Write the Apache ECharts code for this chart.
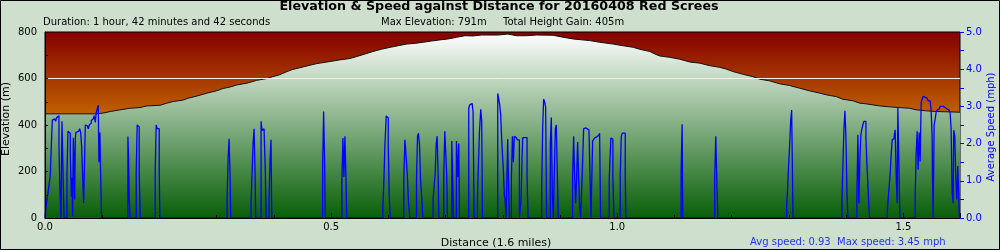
<!DOCTYPE html>
<html><head><meta charset="utf-8">
<script src="https://cdn.jsdelivr.net/npm/echarts@6/dist/echarts.min.js"></script>
<style>html,body{margin:0;padding:0;background:#cee0cd}#c{width:1000px;height:250px}</style>
</head><body><div id="c"></div>
<script>
// ---------- texts ----------
const titleText = 'Elevation & Speed against Distance for 20160408 Red Screes';
const durationText = 'Duration: 1 hour, 42 minutes and 42 seconds';
const maxElevText = 'Max Elevation: 791m';
const gainText = 'Total Height Gain: 405m';
const xName = 'Distance (1.6 miles)';
const yLeftName = 'Elevation (m)';
const yRightName = 'Average Speed (mph)';
const speedSummary = 'Avg speed: 0.93  Max speed: 3.45 mph';

// ---------- axis ranges ----------
const distMax = 1.599;
const elevMax = 800;
const speedMax = 5;

// ---------- elevation profile (miles, metres) ----------
const elevDist = [0, 0.087, 0.101, 0.114, 0.131, 0.148, 0.166, 0.178, 0.201, 0.213,
  0.224, 0.241, 0.250, 0.266, 0.283, 0.300, 0.311, 0.323, 0.335, 0.353,
  0.370, 0.388, 0.398, 0.410, 0.423, 0.433, 0.458, 0.475, 0.498, 0.515,
  0.533, 0.544, 0.559, 0.573, 0.588, 0.603, 0.617, 0.632, 0.646, 0.661,
  0.675, 0.690, 0.704, 0.719, 0.734, 0.748, 0.763, 0.792, 0.809, 0.824,
  0.841, 0.859, 0.888, 0.900, 0.923, 0.952, 0.969, 0.993, 1.010, 1.028,
  1.039, 1.057, 1.068, 1.074, 1.092, 1.109, 1.127, 1.144, 1.162, 1.179,
  1.191, 1.202, 1.220, 1.237, 1.249, 1.266, 1.284, 1.301, 1.319, 1.336,
  1.354, 1.365, 1.383, 1.394, 1.412, 1.424, 1.435, 1.459, 1.476, 1.493,
  1.511, 1.523, 1.540, 1.557, 1.599];
const elevM = [448, 448, 451, 458, 465, 472, 475, 482, 485, 494,
  501, 507, 515, 525, 537, 547, 557, 563, 572, 580,
  592, 600, 608, 616, 630, 639, 654, 664, 673, 680,
  686, 694, 705, 716, 726, 734, 741, 748, 751, 756,
  761, 766, 770, 777, 784, 783, 787, 787, 791, 784,
  784, 787, 786, 780, 770, 763, 756, 748, 741, 734,
  726, 716, 703, 697, 691, 683, 671, 666, 655, 648,
  640, 630, 618, 608, 597, 590, 577, 570, 558, 547,
  537, 530, 522, 511, 504, 494, 491, 482, 478, 475,
  472, 465, 461, 458, 455];

// ---------- speed (miles, mph) ----------
const speedDist = [
  0, 0.0017, 0.0041, 0.0058, 0.0076, 0.0093, 0.0111, 0.0128, 0.0151, 0.0169, 0.0186, 0.0204, 0.0221, 0.0244, 0.0262, 0.0279, 0.0297, 0.0314, 0.0332,
  0.0384, 0.0401, 0.0425, 0.0442, 0.0460, 0.0471, 0.0483, 0.0495, 0.0506, 0.0518,
  0.0530, 0.0541, 0.0565, 0.0588, 0.0605, 0.0623, 0.0640, 0.0657, 0.0675, 0.0687,
  0.0704, 0.0722, 0.0739, 0.0757, 0.0774, 0.0791, 0.0809, 0.0826, 0.0844, 0.0861,
  0.0879, 0.0896, 0.0914, 0.0931, 0.0942, 0.0960, 0.0972, 0.0989,
  0.1449, 0.1460, 0.1472, 0.1489, 0.1594, 0.1611, 0.1629, 0.1646, 0.1664,
  0.1926, 0.1943, 0.1961, 0.1996, 0.2007,
  0.3182, 0.3200, 0.3217, 0.3235, 0.3246,
  0.3601, 0.3619, 0.3636, 0.3654, 0.3671, 0.3682,
  0.3776, 0.3793, 0.3810, 0.3828, 0.3851, 0.3863,
  0.3915, 0.3933, 0.3950, 0.3962,
  0.4852, 0.4869, 0.4887, 0.4898,
  0.5189, 0.5206, 0.5224, 0.5241, 0.5259, 0.5271,
  0.5905, 0.5922, 0.5940, 0.5963, 0.5981, 0.5998, 0.6015, 0.6033,
  0.6271, 0.6289, 0.6300, 0.6318, 0.6335, 0.6353, 0.6376,
  0.6492, 0.6510, 0.6527, 0.6545, 0.6562, 0.6585, 0.6603,
  0.6783, 0.6801, 0.6818, 0.6836, 0.6853, 0.6871, 0.6882,
  0.6969, 0.6987, 0.7004, 0.7021, 0.7033,
  0.7109, 0.7126, 0.7138, 0.7190, 0.7213, 0.7231, 0.7243,
  0.7405, 0.7423, 0.7440, 0.7464, 0.7481, 0.7499,
  0.7557, 0.7574, 0.7592, 0.7615, 0.7632, 0.7644,
  0.7912, 0.7929, 0.7946, 0.7964, 0.7976, 0.7993, 0.8010, 0.8028, 0.8040, 0.8057,
  0.8086, 0.8098, 0.8115,
  0.8150, 0.8168, 0.8185, 0.8202, 0.8220, 0.8237, 0.8255, 0.8290,
  0.8319, 0.8336, 0.8348, 0.8424, 0.8441,
  0.8679, 0.8697, 0.8714, 0.8731, 0.8749, 0.8766,
  0.8831, 0.8848, 0.8866, 0.8883, 0.8901, 0.8918, 0.8935, 0.8953, 0.8970,
  0.9220, 0.9238, 0.9255, 0.9273, 0.9290, 0.9308, 0.9325, 0.9343, 0.9360,
  0.9389, 0.9413, 0.9430, 0.9453, 0.9471, 0.9506, 0.9523, 0.9541,
  0.9570, 0.9587, 0.9604, 0.9622, 0.9639, 0.9657, 0.9674, 0.9692, 0.9709,
  0.9860, 0.9889, 0.9907, 0.9924, 0.9942,
  1.0052, 1.0070, 1.0087, 1.0140, 1.0151,
  1.1117, 1.1134, 1.1146,
  1.1704, 1.1722, 1.1739, 1.1757,
  1.2961, 1.2979, 1.2996, 1.3014, 1.3031, 1.3048, 1.3060, 1.3072,
  1.3927, 1.3944, 1.3962, 1.3979, 1.3997, 1.4014, 1.4031,
  1.4188, 1.4206, 1.4223, 1.4241, 1.4258, 1.4276, 1.4293, 1.4311, 1.4328, 1.4346, 1.4363, 1.4380, 1.4398, 1.4410,
  1.4718, 1.4735, 1.4752, 1.4770, 1.4787, 1.4805, 1.4822, 1.4840, 1.4857, 1.4875, 1.4892, 1.4904, 1.4922, 1.4939,
  1.5207, 1.5224, 1.5241, 1.5259, 1.5276, 1.5294, 1.5311, 1.5329, 1.5346, 1.5364,
  1.5381, 1.5416, 1.5433, 1.5468, 1.5485, 1.5503, 1.5509, 1.5521,
  1.5538, 1.5556, 1.5573, 1.5590, 1.5608, 1.5625, 1.5643, 1.5695, 1.5713, 1.5730,
  1.5765, 1.5800, 1.5817, 1.5835, 1.5852, 1.5870, 1.5881, 1.5899, 1.5916, 1.5934, 1.5951, 1.5980];
const speedMph = [
  0, 0.3, 0.55, 0.75, 0.95, 1.17, 1.95, 2.63, 2.67, 2.71, 2.6, 2.7, 2.75, 1.95, 0.66, 0, 2.6, 1.3, 0,
  1.17, 2.33, 2.28, 1.7, 0.57, 1.08, 0.05, 2.16, 1.6, 0.5,
  2.14, 2.3, 2.33, 2.37, 2.4, 2.3, 1.94, 1.15, 0.4, 1.2,
  2.5, 2.48, 2.45, 2.4, 2.5, 2.55, 2.62, 2.67, 2.7, 2.75,
  2.57, 2.84, 2.93, 3.03, 1.5, 2.3, 1.2, 0,
  2.19, 1.63, 0.5, 0, 1.23, 2.5, 2.45, 1.23, 0,
  1.25, 2.5, 2.4, 1.2, 0,
  0.5, 1.6, 2.13, 1.05, 0,
  0.4, 1.2, 2.0, 2.4, 1.2, 0,
  2.6, 2.35, 2.4, 2.37, 1.2, 0,
  0.5, 1.55, 2.1, 0,
  1.4, 2.86, 1.43, 0,
  1.05, 2.15, 1.1, 2.2, 1.1, 0,
  0.3, 1.0, 1.95, 2.74, 2.69, 1.95, 0.64, 0,
  1.05, 2.1, 1.9, 1.5, 1.05, 0.4, 0,
  1.05, 2.2, 2.28, 1.95, 1.05, 0.5, 0,
  0.5, 0.9, 1.15, 1.98, 2.2, 1.1, 0,
  1.2, 2.33, 2.28, 1.1, 0,
  2.07, 1.0, 0, 2.07, 1.1, 2.0, 0,
  2.95, 3.04, 3.08, 3.04, 2.85, 0,
  0.5, 1.4, 2.3, 2.92, 2.6, 0,
  3.35, 3.3, 3.05, 2.76, 2.28, 1.75, 1.3, 0.6, 0.5, 0,
  2.12, 1.05, 0,
  1.05, 2.2, 1.5, 2.2, 2.16, 2.12, 2.1, 0,
  0.5, 1.58, 2.16, 1.1, 0,
  0.7, 2.4, 3.2, 3.12, 2.98, 0,
  2.0, 2.7, 0.6, 0, 1.2, 2.4, 2.5, 1.2, 0,
  1.1, 2.2, 1.1, 0.4, 1.1, 2.04, 1.1, 0.3, 0,
  1.2, 2.4, 2.42, 2.4, 2.37, 2.33, 1.2, 0,
  2.07, 2.1, 2.15, 2.18, 2.2, 2.22, 2.25, 2.28, 0,
  1.05, 2.15, 2.12, 1.08, 0,
  1.1, 2.18, 2.28, 1.1, 0,
  1.27, 2.52, 0,
  1.1, 2.2, 1.1, 0,
  0.3, 0.85, 1.45, 2.0, 2.6, 2.9, 1.45, 0,
  0.45, 1.45, 2.4, 2.88, 2.16, 0.7, 0,
  0.6, 2.24, 0.4, 1.6, 2.24, 2.4, 2.5, 2.6, 2.6, 2.15, 1.45, 0.9, 0.3, 0,
  0.15, 0.5, 0.85, 1.2, 1.7, 2.1, 2.14, 2.2, 2.37, 1.1, 0.4, 2.98, 1.45, 0,
  0.6, 1.75, 2.33, 1.3, 2.3, 1.52, 3.1, 3.2, 3.27, 3.25,
  3.22, 3.18, 3.15, 3.1, 2.92, 2.2, 1.05, 0,
  2.5, 2.66, 2.84, 2.9, 2.93, 2.97, 3.0, 2.99, 2.97, 2.93,
  2.9, 2.86, 2.83, 2.4, 0.7, 0.4, 2.36, 2.2, 1.1, 0.5, 1.4, 0];

// ---------- build ----------
const FONT = '"DejaVu Sans", sans-serif';
const BLUE = '#0000ff';
const elevData = elevDist.map((d, i) => [d, elevM[i]]);
const speedData = speedDist.map((d, i) => [d, speedMph[i]]);
const isMult = (v, m) => Math.abs(v / m - Math.round(v / m)) < 1e-6;

const G = { left: 45, top: 32, width: 915, height: 186 };

const chart = echarts.init(document.getElementById('c'), null, { renderer: 'canvas' });
chart.setOption({
  animation: false,
  backgroundColor: '#cee0cd',
  grid: {
    left: G.left, top: G.top, width: G.width, height: G.height,
    show: true, borderColor: '#000', borderWidth: 1,
    backgroundColor: {
      type: 'linear', x: 0, y: 0, x2: 0, y2: 1,
      colorStops: [
        { offset: 0, color: '#840000' },
        { offset: 0.44, color: '#c06000' },
        { offset: 1, color: '#d88000' }
      ]
    }
  },
  xAxis: [{
    type: 'value', min: 0, max: distMax, interval: 0.1, position: 'bottom', z: 5,
    axisLine: { show: true, onZero: false, lineStyle: { color: '#000', width: 1 } },
    axisTick: { show: true, inside: true, length: 3, lineStyle: { color: '#000' } },
    axisLabel: {
      show: true, margin: 4, fontSize: 10, fontFamily: FONT, color: '#000', showMaxLabel: false,
      formatter: v => isMult(v, 0.5) ? v.toFixed(1) : ''
    },
    splitLine: { show: false }
  }, {
    type: 'value', min: 0, max: distMax, interval: 0.5, position: 'bottom', z: 5,
    axisLine: { show: false, onZero: false },
    axisTick: { show: true, inside: true, length: 5, lineStyle: { color: '#000' } },
    axisLabel: { show: false },
    splitLine: { show: false }
  }],
  yAxis: [{
    type: 'value', min: 0, max: elevMax, interval: 100, position: 'left', z: 5,
    axisLine: { show: true, onZero: false, lineStyle: { color: '#000' } },
    axisTick: { show: true, inside: true, length: 3, lineStyle: { color: '#000' } },
    axisLabel: {
      margin: 8, fontSize: 10, fontFamily: FONT, color: '#000',
      formatter: v => isMult(v, 200) ? String(v) : ''
    },
    splitLine: {
      show: true,
      lineStyle: {
        width: 1,
        color: ['rgba(0,0,0,0)', 'rgba(0,0,0,0)', 'rgba(0,0,0,0)', 'rgba(0,0,0,0)', 'rgba(0,0,0,0)',
                'rgba(0,0,0,0)', '#f4f0e8', 'rgba(0,0,0,0)', 'rgba(0,0,0,0)']
      }
    }
  }, {
    type: 'value', min: 0, max: speedMax, interval: 0.5, position: 'right', z: 5,
    axisLine: { show: false, onZero: false },
    axisTick: { show: true, inside: false, length: 4, lineStyle: { color: BLUE } },
    axisLabel: {
      margin: 6, fontSize: 10, fontFamily: FONT, color: BLUE,
      formatter: v => isMult(v, 1) ? v.toFixed(1) : ''
    },
    splitLine: { show: false }
  }],
  series: [{
    type: 'line', name: 'Elevation', xAxisIndex: 0, yAxisIndex: 0,
    data: elevData, symbol: 'none', z: 2,
    lineStyle: { color: '#111', width: 1 },
    areaStyle: {
      opacity: 1,
      color: {
        type: 'linear', global: true, x: 0, y: G.top, x2: 0, y2: G.top + G.height,
        colorStops: [
          { offset: 0, color: '#ffffff' },
          { offset: 1, color: '#085f08' }
        ]
      }
    }
  }, {
    type: 'line', name: 'Speed', xAxisIndex: 0, yAxisIndex: 1,
    data: speedData, symbol: 'none', step: 'end', z: 3,
    lineStyle: { color: BLUE, width: 1.3 }
  }],
  graphic: { elements: [
    { type: 'text', x: 499, y: 6.5, style: { text: titleText, font: 'bold 12.7px ' + FONT, fill: '#000', align: 'center', verticalAlign: 'middle' } },
    { type: 'text', x: 43, y: 22.7, style: { text: durationText, font: '10px ' + FONT, fill: '#000', align: 'left', verticalAlign: 'middle' } },
    { type: 'text', x: 381, y: 22.7, style: { text: maxElevText, font: '10px ' + FONT, fill: '#000', align: 'left', verticalAlign: 'middle' } },
    { type: 'text', x: 503, y: 22.7, style: { text: gainText, font: '10px ' + FONT, fill: '#000', align: 'left', verticalAlign: 'middle' } },
    { type: 'text', x: 496, y: 242.7, style: { text: xName, font: '11px ' + FONT, fill: '#000', align: 'center', verticalAlign: 'middle' } },
    { type: 'text', x: 750, y: 242.7, style: { text: speedSummary, font: '10px ' + FONT, fill: '#2233ee', align: 'left', verticalAlign: 'middle' } },
    { type: 'text', x: 6.5, y: 119, rotation: Math.PI / 2, style: { text: yLeftName, font: '11px ' + FONT, fill: '#000', align: 'center', verticalAlign: 'middle' } },
    { type: 'text', x: 991.5, y: 127, rotation: Math.PI / 2, style: { text: yRightName, font: '10px ' + FONT, fill: BLUE, align: 'center', verticalAlign: 'middle' } },
    { type: 'rect', z: 100, silent: true, shape: { x: 0.5, y: 0.5, width: 999, height: 249 }, style: { fill: null, stroke: '#000', lineWidth: 1 } }
  ] }
});
</script></body></html>
